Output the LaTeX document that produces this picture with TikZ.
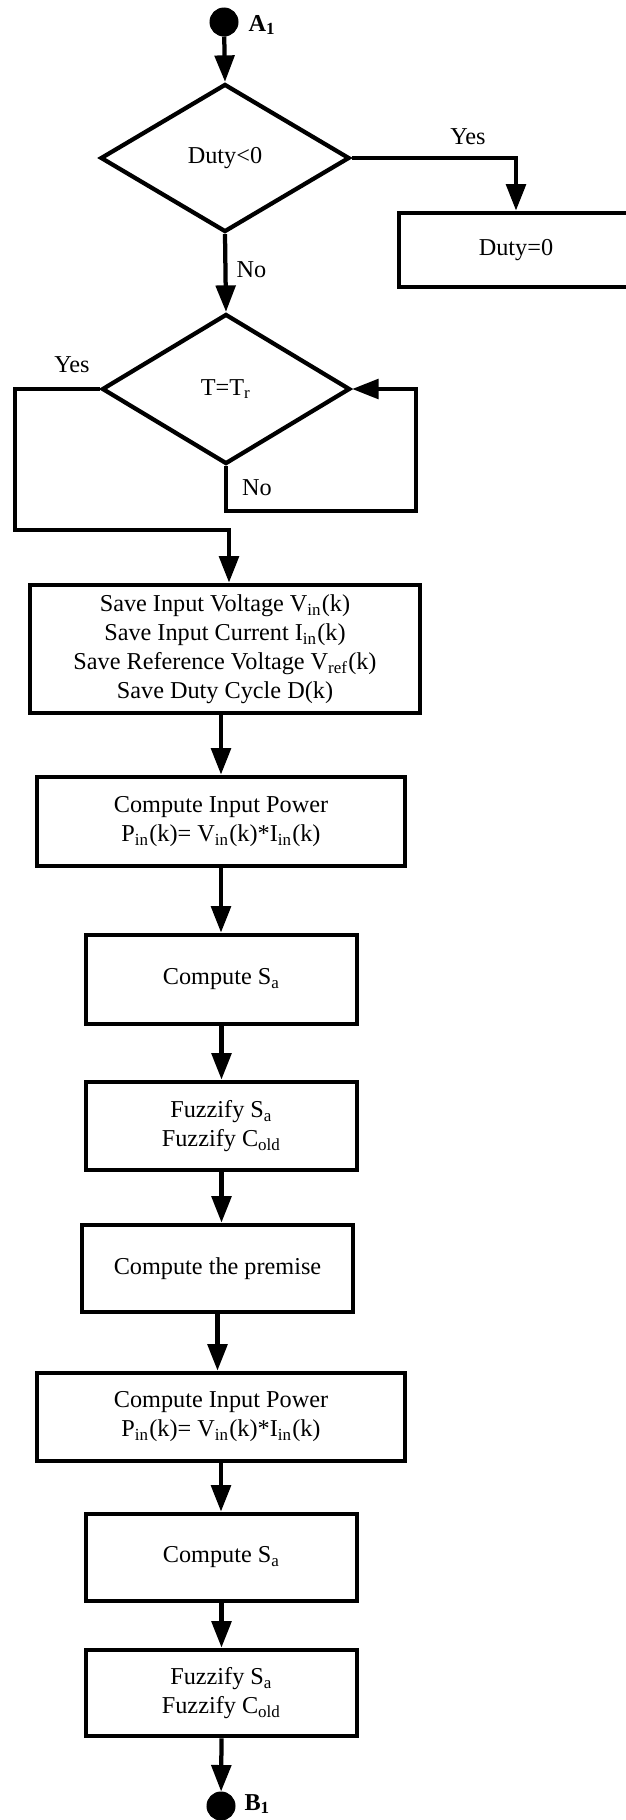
\documentclass[tikz,border=0pt]{standalone}
\usepackage{fontspec}
\setmainfont{Liberation Serif}
\usetikzlibrary{arrows.meta,shapes.geometric}
\begin{document}
\begin{tikzpicture}[x=0.4pt,y=-0.4pt,
  every node/.style={font=\fontsize{9.7pt}{11.6pt}\selectfont},
  proc/.style={draw,line width=1.7pt,rectangle,align=center,inner sep=0pt},
  dec/.style={draw,line width=1.7pt,diamond,inner sep=0pt},
  conn/.style={draw,fill,circle,inner sep=0pt,minimum size=11.2pt},
  flow/.style={line width=1.7pt,-{Triangle[length=10.6pt,width=7.8pt]}},
  lbl/.style={inner sep=0pt}]
\useasboundingbox (0,0) rectangle (626,1820);
\clip (0,0) rectangle (626,1820);

% start connector
\node[conn] (A) at (224,22) {};
\node[lbl,anchor=west] (Alab) at (248,25) {\textbf{A\textsubscript{1}}};

% decision 1
\node[dec,minimum width=99.6pt,minimum height=59.2pt] (d1) at (225,158) {Duty<0};
\node[proc,minimum width=93.8pt,minimum height=29.8pt] (duty0) at (516,250) {Duty=0};
\coordinate (y1) at (516,158);
\node[lbl] (yes1) at (468,137) {Yes};
\node[lbl,anchor=west] (no1) at (236,270) {No};

% decision 2
\node[dec,minimum width=99.2pt,minimum height=60pt] (d2) at (226,389) {T=T\textsubscript{r}};
\node[lbl] (yes2) at (72,365) {Yes};
\node[lbl] (no2) at (257,488) {No};
\coordinate (l1) at (15,389);
\coordinate (l2) at (15,530);
\coordinate (l3) at (229,530);
\coordinate (r1) at (226,511);
\coordinate (r2) at (416,511);
\coordinate (r3) at (416,389);

% process boxes
\node[proc,minimum width=156.2pt,minimum height=51.4pt] (b3) at (225,649)
  {Save Input Voltage V\textsubscript{in}(k)\\Save Input Current I\textsubscript{in}(k)\\Save Reference Voltage V\textsubscript{ref}(k)\\Save Duty Cycle D(k)};
\node[proc,minimum width=147.4pt,minimum height=35.8pt] (b4) at (221,821.5)
  {Compute Input Power\\P\textsubscript{in}(k)= V\textsubscript{in}(k)*I\textsubscript{in}(k)};
\node[proc,minimum width=108.6pt,minimum height=35.8pt] (b5) at (221.5,979.5)
  {Compute S\textsubscript{a}};
\node[proc,minimum width=108.6pt,minimum height=35.4pt] (b6) at (221.5,1126)
  {Fuzzify S\textsubscript{a}\\Fuzzify C\textsubscript{old}};
\node[proc,minimum width=108.6pt,minimum height=35pt] (b7) at (217.5,1268.5)
  {Compute the premise};
\node[proc,minimum width=147.4pt,minimum height=35.4pt] (b8) at (221,1417)
  {Compute Input Power\\P\textsubscript{in}(k)= V\textsubscript{in}(k)*I\textsubscript{in}(k)};
\node[proc,minimum width=108.6pt,minimum height=35pt] (b9) at (221.5,1557.5)
  {Compute S\textsubscript{a}};
\node[proc,minimum width=108.6pt,minimum height=34.6pt] (b10) at (221.5,1693)
  {Fuzzify S\textsubscript{a}\\Fuzzify C\textsubscript{old}};

% end connector
\node[conn] (B) at (221,1806) {};
\node[lbl,anchor=west] (Blab) at (244,1804) {\textbf{B\textsubscript{1}}};

% connectors
\draw[flow] (A) -- (d1.north);
\draw[flow] (d1.east) -- (y1) -- (duty0.north);
\draw[flow] (d1.south) -- (d2.north);
\draw[flow] (d2.west) -- (l1) -- (l2) -- (l3) -- (l3 |- b3.north);
\draw[flow] (d2.south) -- (r1) -- (r2) -- (r3) -- (d2.east);
\draw[flow] (b3.south -| b4.north) -- (b4.north);
\draw[flow] (b4.south) -- (b4.south |- b5.north);
\draw[flow] (b5.south) -- (b5.south |- b6.north);
\draw[flow] (b6.south) -- (b6.south |- b7.north);
\draw[flow] (b7.south) -- (b7.south |- b8.north);
\draw[flow] (b8.south) -- (b8.south |- b9.north);
\draw[flow] (b9.south) -- (b9.south |- b10.north);
\draw[flow] (b10.south) -- (B);
\end{tikzpicture}
\end{document}
